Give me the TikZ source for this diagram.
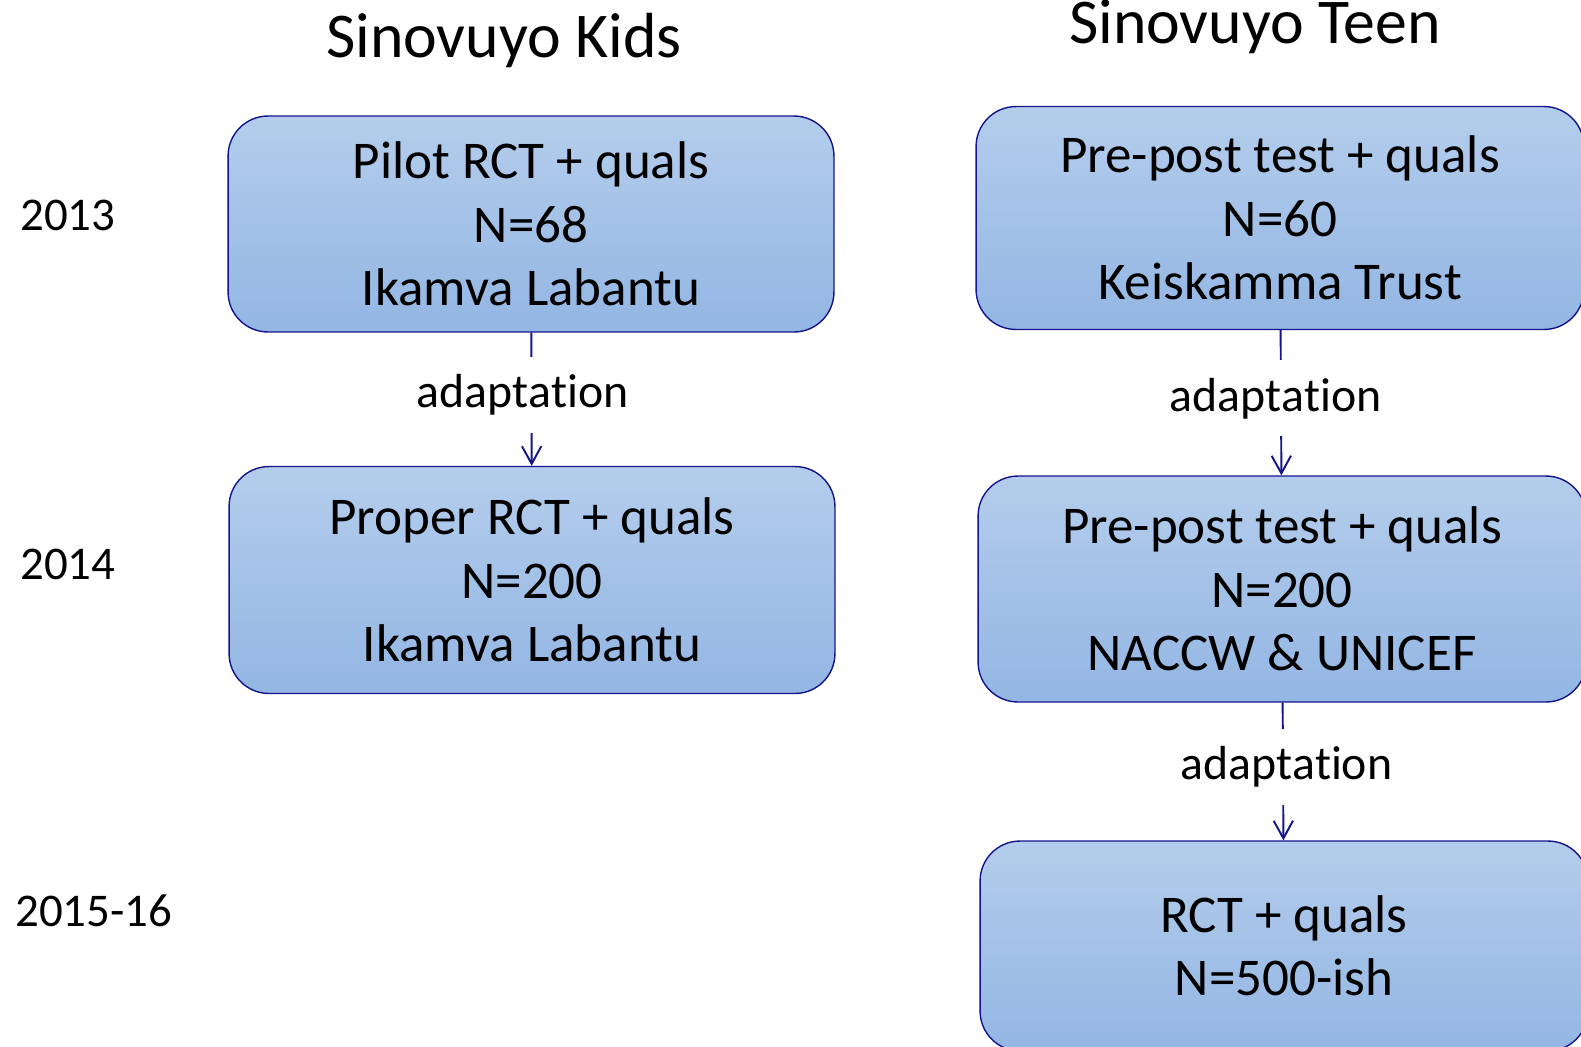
\documentclass[tikz,border=0pt]{standalone}
\usepackage{fontspec}
\setmainfont[Ligatures={NoCommon,NoRequired,NoContextual}, Contextuals=NoAlternate]{Carlito}
\usetikzlibrary{arrows.meta, positioning}

\definecolor{boxtop}{RGB}{180,205,236}
\definecolor{boxbot}{RGB}{147,182,227}
\definecolor{edgeblue}{RGB}{20,20,140}

\begin{document}
\begin{tikzpicture}[x=0.02cm, y=-0.02cm,
  >={Straight Barb[length=10pt,width=11pt]},
  box/.style={draw=edgeblue, line width=0.8pt, rounded corners=0.8cm,
    top color=boxtop, bottom color=boxbot, align=center, inner sep=0pt,
    minimum width=12.12cm, font=\fontsize{30.2}{36}\selectfont},
  lbl/.style={fill=white, inner xsep=2pt, inner ysep=10pt, yshift=2.5pt,
    text=black, font=\fontsize{27.2}{32}\selectfont},
  yr/.style={anchor=west, inner sep=0pt, font=\fontsize{26.7}{32}\selectfont},
  ttl/.style={font=\fontsize{36.3}{43}\selectfont}]
\useasboundingbox (0,0) rectangle (1581,1046);
\clip (0,0) rectangle (1581,1046);
% Column titles
\node[ttl] (kids) at (504,40) {Sinovuyo Kids};
\node[ttl] (teen) at (1255,27) {Sinovuyo Teen};
% Years
\node[yr] (y13) at (20,215) {2013};
\node[yr] (y14) at (20,564) {2014};
\node[yr] (y15) at (15,911) {2015-16};
% Kids boxes
\node[box, minimum height=4.32cm] (k1) at (531,224) {Pilot RCT + quals\\N=68\\Ikamva Labantu};
\node[box, minimum height=4.54cm] (k2) at (532,580) {Proper RCT + quals\\N=200\\Ikamva Labantu};
% Teen boxes
\node[box, minimum width=12.16cm, minimum height=4.46cm] (t1) at (1280,218) {Pre-post test + quals\\N=60\\Keiskamma Trust};
\node[box, minimum width=12.16cm, minimum height=4.52cm] (t2) at (1282,589) {Pre-post test + quals\\N=200\\NACCW \& UNICEF};
\node[box, minimum width=12.16cm, minimum height=4.2cm] (t3) at (1284,946) {RCT + quals\\N=500-ish};
% Adaptation arrows (kern keeps t and i apart)
\draw[->, edgeblue, line width=1.1pt] (k1) -- node[lbl, xshift=-5pt] {adapt\kern0pt ation} (k2);
\draw[->, edgeblue, line width=1.1pt] (t1) -- node[lbl, xshift=-3pt] {adapt\kern0pt ation} (t2);
\draw[->, edgeblue, line width=1.1pt] (t2) -- node[lbl, xshift=2pt] {adapt\kern0pt ation} (t3);
\end{tikzpicture}
\end{document}
